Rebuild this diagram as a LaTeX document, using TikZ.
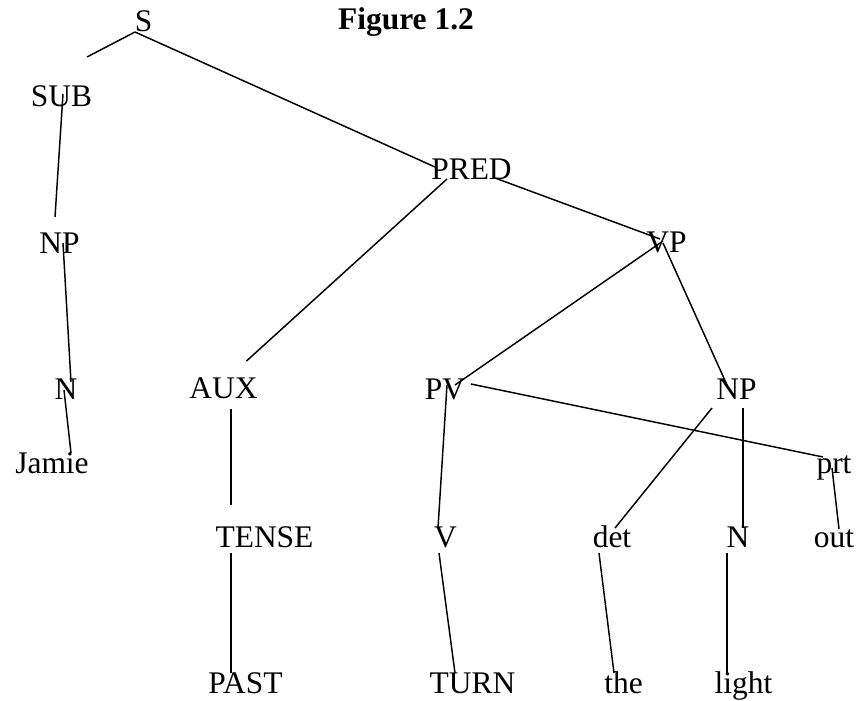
\documentclass[tikz,border=0pt]{standalone}
\usepackage{fontspec}
\setmainfont{Liberation Serif}
\begin{document}
\begin{tikzpicture}[x=0.75pt,y=-0.75pt,
  lab/.style={anchor=base,inner sep=0pt,font=\fontsize{23.6}{28}\selectfont},
  ttl/.style={anchor=base,inner sep=0pt,font=\fontsize{23.6}{28}\selectfont\bfseries},
  edge/.style={line width=1.1pt}]
\useasboundingbox (0,0) rectangle (860,700);
% nodes
\node[lab] (S) at (143.5,31) {S};
\node[ttl] (title) at (406,29.5) {Figure 1.2};
\node[lab] (SUB) at (61.5,106) {SUB};
\node[lab] (PRED) at (471.5,179) {PRED};
\node[lab] (NPa) at (59.5,253) {NP};
\node[lab] (VP) at (666.5,252) {VP};
\node[lab] (Na) at (66,399) {N};
\node[lab] (AUX) at (223.5,398) {AUX};
\node[lab] (PV) at (445,399) {PV};
\node[lab] (NPb) at (736.5,399) {NP};
\node[lab] (Jamie) at (52,473) {Jamie};
\node[lab] (prt) at (834,473) {prt};
\node[lab] (TENSE) at (264.5,547) {TENSE};
\node[lab] (V) at (445.5,547) {V};
\node[lab] (det) at (612,547) {det};
\node[lab] (Nb) at (738,547) {N};
\node[lab] (out) at (834,547) {out};
\node[lab] (PAST) at (245.5,693) {PAST};
\node[lab] (TURN) at (472.5,693) {TURN};
\node[lab] (the) at (623.5,693) {the};
\node[lab] (light) at (743.5,693) {light};
% connectors
\draw[edge] ([shift={(-8.5,1)}]S.base) -- ([shift={(25.5,-49)}]SUB.base);
\draw[edge] ([shift={(-8.5,1)}]S.base) -- ([shift={(-36.5,-12)}]PRED.base);
\draw[edge] ([shift={(1.5,-12)}]SUB.base) -- ([shift={(-4.5,-36)}]NPa.base);
\draw[edge] ([shift={(3.5,-10)}]NPa.base) -- ([shift={(5,-17)}]Na.base);
\draw[edge] ([shift={(-2,-9)}]Na.base) -- ([shift={(19,-20)}]Jamie.base);
\draw[edge] ([shift={(-24.5,0)}]PRED.base) -- ([shift={(23,-37)}]AUX.base);
\draw[edge] ([shift={(23.5,-1)}]PRED.base) -- ([shift={(-6.5,-13)}]VP.base);
\draw[edge] ([shift={(-3.5,-11)}]VP.base) -- ([shift={(10,-14)}]PV.base);
\draw[edge] ([shift={(-3.5,-9)}]VP.base) -- ([shift={(-9.5,-14)}]NPb.base);
\draw[edge] ([shift={(7.5,11)}]AUX.base) -- ([shift={(-33.5,-42)}]TENSE.base);
\draw[edge] ([shift={(-33.5,6)}]TENSE.base) -- ([shift={(-14.5,-20)}]PAST.base);
\draw[edge] ([shift={(2,-14)}]PV.base) -- ([shift={(-7.5,-19)}]V.base);
\draw[edge] ([shift={(26,-15)}]PV.base) -- ([shift={(-11,-16)}]prt.base);
\draw[edge] ([shift={(-24.5,9)}]NPb.base) -- ([shift={(3,-19)}]det.base);
\draw[edge] ([shift={(6.5,9)}]NPb.base) -- ([shift={(5,-19)}]Nb.base);
\draw[edge] ([shift={(-2,-5)}]prt.base) -- ([shift={(5,-18)}]out.base);
\draw[edge] ([shift={(-6.5,6)}]V.base) -- ([shift={(-17.5,-20)}]TURN.base);
\draw[edge] ([shift={(-13,6)}]det.base) -- ([shift={(-9.5,-20)}]the.base);
\draw[edge] ([shift={(-11,6)}]Nb.base) -- ([shift={(-16.5,-20)}]light.base);
\end{tikzpicture}
\end{document}
